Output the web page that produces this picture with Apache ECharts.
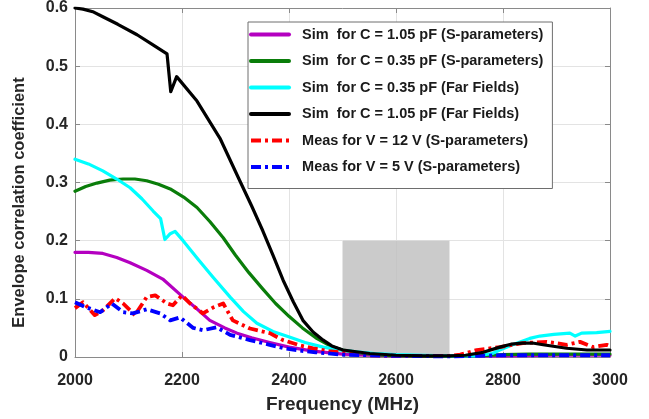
<!DOCTYPE html>
<html>
<head>
<meta charset="utf-8">
<script src="https://cdn.jsdelivr.net/npm/echarts@6/dist/echarts.min.js"></script>
<style>html,body{margin:0;padding:0;background:#fff}#c{width:649px;height:419px}</style>
</head>
<body>
<div id="c"></div>
<script>
// ---- data (frequency in MHz, envelope correlation coefficient) ----
var xTicks = [2000, 2200, 2400, 2600, 2800, 3000];
var yTicks = [0, 0.1, 0.2, 0.3, 0.4, 0.5, 0.6];
var bandMHz = [2500, 2700];
var bandECC = [0, 0.2];

var names = [
  'Sim  for C = 1.05 pF (S-parameters)',
  'Sim  for C = 0.35 pF (S-parameters)',
  'Sim  for C = 0.35 pF (Far Fields)',
  'Sim  for C = 1.05 pF (Far Fields)',
  'Meas for V = 12 V (S-parameters)',
  'Meas for V = 5 V (S-parameters)'
];

var fMag = [2000,2025,2052,2078,2103,2134,2164,2202,2225,2252,2280,2303,2330,2364,2400,2445,2500,2550,2600,2700,2800,2900,3000];
var vMag = [0.180,0.180,0.178,0.171,0.162,0.149,0.134,0.103,0.085,0.063,0.050,0.041,0.033,0.025,0.017,0.010,0.005,0.003,0.002,0.001,0.002,0.003,0.003];

var fGreen = [2000,2020,2041,2065,2090,2112,2134,2156,2178,2203,2228,2252,2277,2300,2325,2350,2375,2400,2425,2450,2477,2500,2527,2560,2600,2700,2750,2800,2850,3000];
var vGreen = [0.285,0.293,0.299,0.304,0.306,0.306,0.303,0.297,0.289,0.275,0.257,0.233,0.205,0.175,0.145,0.118,0.092,0.070,0.050,0.033,0.019,0.012,0.008,0.004,0.002,0.001,0.002,0.004,0.005,0.005];

var fCyan = [2000,2025,2052,2078,2103,2125,2146,2160,2168,2178,2187,2202,2230,2258,2290,2315,2340,2370,2402,2430,2464,2495,2527,2560,2600,2650,2700,2750,2780,2794,2812,2832,2850,2869,2895,2925,2935,2947,2975,3000];
var vCyan = [0.340,0.332,0.320,0.306,0.291,0.272,0.251,0.238,0.202,0.212,0.216,0.200,0.168,0.137,0.103,0.078,0.058,0.044,0.034,0.025,0.017,0.012,0.009,0.006,0.004,0.003,0.002,0.002,0.006,0.012,0.019,0.026,0.032,0.036,0.039,0.041,0.036,0.041,0.042,0.044];

var fBlack = [2000,2015,2035,2052,2080,2116,2145,2172,2179,2190,2228,2271,2308,2330,2351,2370,2389,2408,2426,2445,2464,2480,2501,2551,2600,2650,2700,2730,2763,2794,2815,2837,2855,2875,2919,2957,3000];
var vBlack = [0.600,0.598,0.593,0.585,0.572,0.554,0.537,0.521,0.456,0.482,0.440,0.376,0.303,0.260,0.217,0.175,0.132,0.095,0.063,0.043,0.029,0.019,0.012,0.006,0.003,0.002,0.002,0.003,0.008,0.017,0.022,0.024,0.024,0.021,0.015,0.012,0.012];

var fRed = [2000,2015,2037,2052,2075,2090,2112,2134,2150,2172,2183,2200,2215,2239,2258,2277,2295,2327,2345,2364,2389,2420,2445,2475,2508,2550,2600,2700,2720,2751,2794,2837,2882,2919,2944,2968,2994,3000];
var vRed = [0.084,0.094,0.072,0.080,0.101,0.092,0.072,0.103,0.106,0.092,0.089,0.106,0.092,0.075,0.085,0.092,0.063,0.049,0.045,0.041,0.029,0.020,0.015,0.010,0.007,0.003,0.002,0.002,0.004,0.012,0.017,0.024,0.026,0.021,0.026,0.017,0.021,0.019];

var fBlue = [2000,2019,2047,2069,2090,2108,2134,2159,2178,2196,2221,2239,2265,2290,2327,2364,2390,2420,2450,2500,2600,2700,2800,3000];
var vBlue = [0.094,0.086,0.077,0.092,0.077,0.075,0.082,0.075,0.063,0.068,0.050,0.046,0.051,0.038,0.029,0.021,0.015,0.011,0.008,0.004,0.002,0.001,0.003,0.003];

function pairs(f, v) { return f.map(function (x, i) { return [x, v[i]]; }); }

var FONT = 'Liberation Sans, Arial, sans-serif';
var TXT = '#262626';

function sim(name, f, v, color, z) {
  return { name: name, type: 'line', data: pairs(f, v), symbol: 'none', smooth: false,
    lineStyle: { color: color, width: 3.2, join: 'round', cap: 'round' }, itemStyle: { color: color }, z: z, silent: true };
}
function meas(name, f, v, color, z) {
  return { name: name, type: 'line', data: pairs(f, v), symbol: 'none', smooth: false,
    lineStyle: { color: color, width: 3.8, type: [10, 4, 3, 4], join: 'round' }, itemStyle: { color: color }, z: z, silent: true };
}

var chart = echarts.init(document.getElementById('c'), null, { renderer: 'canvas' });
var axisLineStyle = { color: '#8a8a8a', width: 1 };
chart.setOption({
  animation: false,
  backgroundColor: '#fff',
  grid: { left: 75, right: 39, top: 6, bottom: 62, containLabel: false },
  legend: {
    orient: 'vertical', left: 248, top: 22,
    itemWidth: 38, itemHeight: 14, itemGap: 11.5,
    padding: [5, 9, 14, 1],
    borderColor: '#6e6e6e', borderWidth: 1, backgroundColor: '#fff',
    formatter: '  {name}',
    textStyle: { fontFamily: FONT, fontSize: 14.5, fontWeight: 'bold', color: '#1a1a1a' },
    lineStyle: { width: 4 },
    itemStyle: { opacity: 0 },
    selectedMode: false,
    data: names
  },
  xAxis: [{
    type: 'value', min: xTicks[0], max: xTicks[xTicks.length - 1], interval: 200,
    name: 'Frequency (MHz)', nameLocation: 'middle', nameGap: 38,
    nameTextStyle: { fontFamily: FONT, fontSize: 19, fontWeight: 'bold', color: TXT },
    axisLine: { show: true, lineStyle: axisLineStyle },
    axisTick: { show: true, inside: true, length: 5, lineStyle: axisLineStyle },
    axisLabel: { fontFamily: FONT, fontSize: 16, fontWeight: 'bold', color: TXT, margin: 16,
      formatter: function (v) { return String(v); } },
    splitLine: { show: true, lineStyle: { color: '#e3e3e3', width: 1 } }
  }, {
    type: 'value', position: 'top', min: xTicks[0], max: xTicks[xTicks.length - 1], interval: 200,
    axisLine: { show: true, onZero: false, lineStyle: axisLineStyle },
    axisTick: { show: true, inside: true, length: 5, lineStyle: axisLineStyle },
    axisLabel: { show: false }, splitLine: { show: false }
  }],
  yAxis: [{
    type: 'value', min: yTicks[0], max: yTicks[yTicks.length - 1], interval: 0.1,
    name: 'Envelope correlation coefficient', nameLocation: 'middle', nameGap: 47,
    nameTextStyle: { fontFamily: FONT, fontSize: 16.5, fontWeight: 'bold', color: TXT, padding: [0, 40, 0, 0] },
    axisLine: { show: true, lineStyle: axisLineStyle },
    axisTick: { show: true, inside: true, length: 5, lineStyle: axisLineStyle },
    axisLabel: { fontFamily: FONT, fontSize: 16, fontWeight: 'bold', color: TXT, margin: 7,
      formatter: function (v) { return Math.round(v * 10) / 10 + ''; } },
    splitLine: { show: true, lineStyle: { color: '#e3e3e3', width: 1 } }
  }, {
    type: 'value', position: 'right', min: yTicks[0], max: yTicks[yTicks.length - 1], interval: 0.1,
    axisLine: { show: true, onZero: false, lineStyle: axisLineStyle },
    axisTick: { show: true, inside: true, length: 5, lineStyle: axisLineStyle },
    axisLabel: { show: false }, splitLine: { show: false }
  }],
  series: [
    { name: 'band', type: 'line', data: [], z: 1, silent: true,
      markArea: { silent: true, itemStyle: { color: 'rgba(190,190,190,0.8)' },
        data: [[{ coord: [bandMHz[0], bandECC[0]] }, { coord: [bandMHz[1], bandECC[1]] }]] } },
    sim(names[0], fMag, vMag, '#b400c0', 3),
    sim(names[1], fGreen, vGreen, '#0a7d0a', 3),
    sim(names[2], fCyan, vCyan, '#00ffff', 3),
    meas(names[4], fRed, vRed, '#ff0000', 4),
    meas(names[5], fBlue, vBlue, '#0000ff', 4),
    sim(names[3], fBlack, vBlack, '#000000', 5)
  ]
});
</script>
</body>
</html>
